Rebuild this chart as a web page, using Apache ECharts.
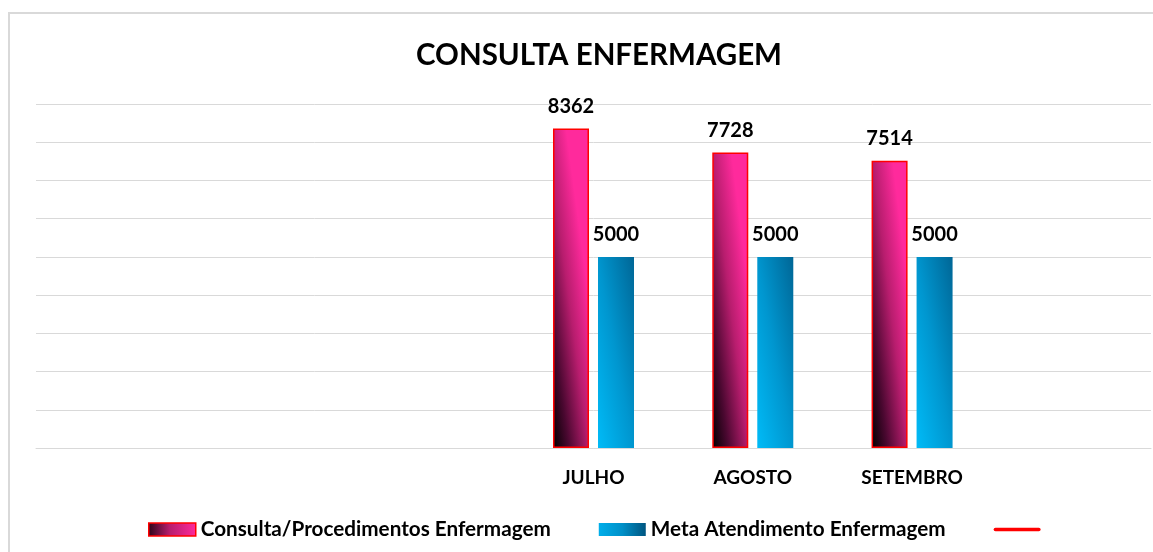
<!DOCTYPE html>
<html>
<head>
<meta charset="utf-8">
<title>Consulta Enfermagem</title>
<script src="https://cdn.jsdelivr.net/npm/echarts@6/dist/echarts.min.js"></script>
<style>
  html, body { margin: 0; padding: 0; background: #fff; }
  #chart { width: 1153px; height: 552px; }
</style>
</head>
<body>
<div id="chart"></div>
<script>
// dados
var categorias = ["", "", "", "JULHO", "AGOSTO", "SETEMBRO", ""];
var consultas = [null, null, null, 8362, 7728, 7514, null];
var metas = [null, null, null, 5000, 5000, 5000, null];
var linhaMeta = [];

var fonte = "Lato";

var chart = echarts.init(document.getElementById("chart"));

// gradiente "diagonal" no estilo do Excel (canto inferior esquerdo -> superior direito)
var rosaBarra = new echarts.graphic.LinearGradient(0, 1, 1.97, 0.97, [
  { offset: 0, color: "#000000" },
  { offset: 0.22, color: "#4a0830" },
  { offset: 0.5, color: "#b81d6e" },
  { offset: 0.78, color: "#ff2a9c" },
  { offset: 1, color: "#ff2a9c" }
]);
var azulBarra = new echarts.graphic.LinearGradient(0, 1, 1.93, 0.93, [
  { offset: 0, color: "#00bbf7" },
  { offset: 0.5, color: "#0096cf" },
  { offset: 1, color: "#006797" }
]);
var rosaLegenda = new echarts.graphic.LinearGradient(0, 0, 1, 0, [
  { offset: 0, color: "#2a0418" },
  { offset: 0.45, color: "#b81d6e" },
  { offset: 1, color: "#ff2a9c" }
]);
var azulLegenda = new echarts.graphic.LinearGradient(0, 0, 1, 0, [
  { offset: 0, color: "#00aeea" },
  { offset: 0.5, color: "#0090c8" },
  { offset: 1, color: "#005580" }
]);

var rotulo = {
  show: true,
  position: "top",
  distance: 12,
  fontSize: 20,
  fontWeight: "bold",
  color: "#000",
  fontFamily: fonte
};

var option = {
  animation: false,
  textStyle: { fontFamily: fonte },
  title: {
    text: "CONSULTA ENFERMAGEM",
    left: 594,
    top: 35,
    textAlign: "center",
    textStyle: { fontSize: 29.5, fontWeight: "bold", color: "#000", fontFamily: fonte }
  },
  legend: {
    left: 148,
    top: 519,
    padding: 0,
    itemWidth: 47,
    itemHeight: 13,
    itemGap: 48,
    textStyle: { fontSize: 20.7, fontWeight: "bold", color: "#000", fontFamily: fonte },
    data: [
      {
        name: "Consulta/Procedimentos Enfermagem",
        icon: "rect",
        itemStyle: { color: rosaLegenda, borderColor: "#ff0000", borderWidth: 1.5 }
      },
      { name: "Meta Atendimento Enfermagem", icon: "rect", itemStyle: { color: azulLegenda } },
      { name: " ", icon: "path://M2,0 L50,0 Q52,0 52,2 Q52,4 50,4 L2,4 Q0,4 0,2 Q0,0 2,0 Z" }
    ]
  },
  grid: { left: 36, right: 2, top: 104, bottom: 104, containLabel: false },
  graphic: [
    {
      type: "rect",
      shape: { x: 9, y: 13, width: 1200, height: 600 },
      style: { fill: "none", stroke: "#d9d9d9", lineWidth: 2 },
      silent: true
    }
  ],
  xAxis: {
    type: "category",
    data: categorias,
    axisTick: { show: false },
    axisLine: { lineStyle: { color: "#d9d9d9", width: 1 } },
    axisLabel: { margin: 20, fontSize: 19, fontWeight: "bold", color: "#000", fontFamily: fonte }
  },
  yAxis: {
    type: "value",
    min: 0,
    max: 9000,
    interval: 1000,
    axisLabel: { show: false },
    axisLine: { show: false },
    axisTick: { show: false },
    splitLine: { lineStyle: { color: "#d9d9d9", width: 1 } }
  },
  series: [
    {
      name: "Consulta/Procedimentos Enfermagem",
      type: "bar",
      data: consultas,
      barWidth: 36,
      barGap: "25%",
      itemStyle: {
        color: rosaBarra,
        borderColor: "#ff0000",
        borderWidth: 1.5
      },
      label: rotulo
    },
    {
      name: "Meta Atendimento Enfermagem",
      type: "bar",
      data: metas,
      barWidth: 36,
      itemStyle: { color: azulBarra },
      label: rotulo
    },
    {
      name: " ",
      type: "line",
      data: linhaMeta,
      symbol: "none",
      itemStyle: { color: "#ff0000" },
      lineStyle: { color: "#ff0000", width: 4, cap: "round" }
    }
  ]
};

chart.setOption(option);
window.onresize = function () {
  chart.resize();
};
</script>
</body>
</html>
